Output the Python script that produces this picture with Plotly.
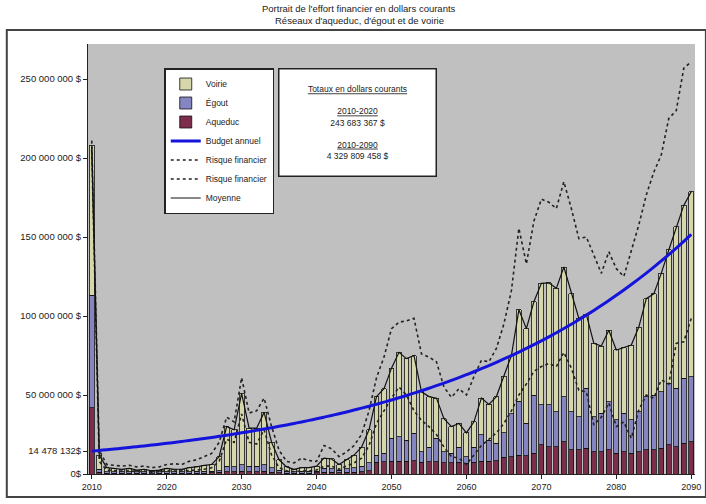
import plotly.graph_objects as go

# ---------------- data (millions of current dollars) ----------------
years = list(range(2010, 2091))

aqueduc = [42, 1.0, 0.5, 0.5, 0.4, 0.5, 0.4, 0.4, 0.3, 0.4,
           0.5, 0.4, 0.4, 0.5, 0.6, 0.6, 0.8, 1.0, 1.5, 1.4,
           1.8, 1.5, 1.5, 1.6, 1.2, 0.9, 0.6, 0.5, 0.6, 0.6,
           0.7, 1.0, 1.0, 0.8, 1.0, 1.2, 1.5, 2.0, 7.5, 7.8,
           8.0, 8.2, 8.0, 8.3, 7.5, 7.6, 7.8, 7.2, 7.0, 7.3,
           6.8, 7.4, 8.2, 8.0, 8.4, 10.5, 11.0, 12.0, 11.5, 13.0,
           18.4, 17.3, 17.3, 20.5, 15.2, 15.2, 16.2, 14.2, 14.2, 15.2,
           13.2, 14.2, 13.2, 14.2, 15.2, 15.2, 16.2, 18.4, 17.3, 19.4,
           20.5]

egout = [71, 2.0, 1.0, 1.0, 1.0, 1.0, 1.0, 1.0, 1.0, 1.0,
         1.0, 1.0, 1.0, 1.0, 1.0, 1.0, 1.0, 1.0, 3.5, 3.1,
         4.2, 3.5, 3.5, 4.4, 2.8, 1.6, 1.2, 1.0, 1.2, 1.2,
         1.2, 2.5, 2.3, 1.7, 2.2, 2.8, 3.5, 5.0, 4.5, 5.2,
         14.6, 15.4, 13.5, 17.4, 6.5, 9.4, 14.8, 6.8, 6.0, 9.7,
         4.2, 9.6, 16.5, 13.5, 11.0, 15.5, 27.0, 34.0, 20.5, 37.0,
         25.3, 26.4, 22.2, 28.4, 24.3, 21.1, 38.0, 22.1, 24.2, 30.6,
         21.0, 24.2, 21.0, 25.3, 33.7, 34.8, 35.9, 39.0, 36.9, 41.1,
         41.1]

voirie = [95, 9.0, 2.5, 2.0, 1.6, 2.0, 1.1, 1.6, 0.7, 1.1,
          2.0, 1.6, 1.6, 2.5, 2.9, 3.9, 4.2, 9.0, 25.0, 23.5,
          45.0, 24.0, 24.0, 33.0, 16.0, 6.5, 2.7, 1.5, 2.2, 2.2,
          3.1, 6.5, 6.2, 3.5, 5.8, 8.0, 12.0, 21.0, 37.0, 41.0,
          44.4, 53.4, 51.5, 49.3, 38.0, 32.0, 25.4, 21.0, 17.0, 15.0,
          15.0, 16.0, 23.3, 22.5, 29.6, 36.0, 37.0, 58.0, 60.0, 59.0,
          77.0, 77.3, 78.0, 82.1, 74.5, 62.2, 46.8, 46.4, 42.6, 45.2,
          44.3, 41.6, 47.4, 53.5, 62.1, 64.0, 74.9, 84.4, 102.3, 109.5,
          117.1]

moyenne = [208, 12, 4, 3.5, 3, 3.5, 2.5, 3, 2, 2.5,
           3.5, 3, 3, 4, 4.5, 5.5, 6, 11, 30, 28,
           51, 29, 29, 39, 20, 9, 4.5, 3, 4, 4,
           5, 10, 9.5, 6, 9, 12, 17, 28, 49, 54,
           67, 77, 73, 75, 52, 49, 48, 35, 30, 32,
           26, 33, 48, 44, 49, 62, 75, 104, 92, 109,
           120.7, 121, 117.5, 131, 114, 98.5, 101, 82.7, 81, 91,
           78.5, 80, 81.6, 93, 111, 114, 127, 141.8, 156.5, 170,
           178.7]

risque_haut = [211, 15, 6, 5.5, 5, 5.5, 4.5, 5, 4, 4.5,
               6, 6.5, 6, 8, 9, 11, 13, 20, 36, 33,
               61, 38.6, 40, 48, 30, 15, 8, 7, 10, 8.5,
               8, 18, 16, 11, 14, 18, 25, 40, 61, 74,
               92, 96, 97, 98.5, 76, 74, 71, 55, 48.5, 54,
               50, 61.6, 72, 71, 79.5, 95, 116, 155.5, 133, 160,
               174, 172, 168, 185, 168, 149, 150, 138.6, 127, 140.7,
               130, 125, 140.7, 157.6, 176.6, 191, 202, 225, 230, 256.8,
               261]

risque_bas = [205, 8, 2.5, 2, 1.8, 2, 1.5, 1.8, 1.2, 1.5,
              2, 1.8, 1.8, 2.2, 2.5, 3, 4, 8, 22, 20,
              38, 20, 19, 28, 12, 4, 2, 1.5, 2, 2,
              2.5, 5, 5, 3, 5, 7, 10, 18, 32, 40,
              48, 55, 50, 40, 34, 30, 25, 17, 11, 10,
              6, 12, 18, 22, 26, 32, 40, 50, 57, 65,
              68, 70, 68, 77, 67, 53, 52, 31, 36, 45,
              30, 33, 22.6, 40.5, 50, 48, 59.5, 57, 82.7, 83.7,
              98.5]

budget = [14.48, 14.91, 15.35, 15.81, 16.28, 16.77, 17.27, 17.78, 18.31, 18.86,
          19.42, 20.00, 20.60, 21.21, 21.84, 22.49, 23.16, 23.85, 24.56, 25.29,
          26.05, 26.82, 27.62, 28.45, 29.29, 30.17, 31.07, 31.99, 32.94, 33.93,
          34.94, 35.98, 37.05, 38.16, 39.29, 40.46, 41.67, 42.91, 44.19, 45.50,
          46.86, 48.26, 49.69, 51.17, 52.70, 54.27, 55.89, 57.55, 59.27, 61.03,
          62.85, 64.72, 66.65, 68.64, 70.68, 72.79, 74.96, 77.19, 79.49, 81.86,
          84.30, 86.81, 89.40, 92.06, 94.80, 97.63, 100.54, 103.53, 106.62, 109.80,
          113.07, 116.44, 119.91, 123.48, 127.16, 130.95, 134.85, 138.87, 143.01, 147.27,
          151.66]

y_tickvals = [0, 14.478132, 50, 100, 150, 200, 250]
y_ticktext = ["0$", "14 478 132$", "50 000 000 $", "100 000 000 $",
              "150 000 000 $", "200 000 000 $", "250 000 000 $"]
x_tickvals = [2010, 2020, 2030, 2040, 2050, 2060, 2070, 2080, 2090]

title_lines = ["Portrait de l'effort financier en dollars courants",
               "Réseaux d'aqueduc, d'égout et de voirie"]
totaux_text = ("<u>Totaux en dollars courants</u><br> <br>"
               "<u>2010-2020</u><br>243 683 367 $<br> <br>"
               "<u>2010-2090</u><br>4 329 809 458 $")

# ---------------- layout constants ----------------
W, H = 706, 504
ML, MR, MT, MB = 88, 5, 44, 30
PW, PH = W - ML - MR, H - MT - MB
FONT = "Liberation Sans, Arial, sans-serif"


def px_x(p):
    return (p - ML) / PW


def px_y(p):
    return (H - MB - p) / PH


fig = go.Figure()

bar_line = dict(color="#111111", width=0.8)
fig.add_trace(go.Bar(x=years, y=aqueduc, name="Aqueduc", legendrank=3,
                     marker=dict(color="#7b2d4b", line=bar_line)))
fig.add_trace(go.Bar(x=years, y=egout, name="Égout", legendrank=2,
                     marker=dict(color="#8585c2", line=bar_line)))
fig.add_trace(go.Bar(x=years, y=voirie, name="Voirie", legendrank=1,
                     marker=dict(color="#d6d6ab", line=bar_line)))

fig.add_trace(go.Scatter(x=years, y=risque_haut, name="Risque financier", legendrank=5,
                         mode="lines", line=dict(color="#222222", width=1.6, dash="dot")))
fig.add_trace(go.Scatter(x=years, y=risque_bas, name="Risque financier", legendrank=6,
                         mode="lines", line=dict(color="#222222", width=1.6, dash="dot")))
fig.add_trace(go.Scatter(x=years, y=moyenne, name="Moyenne", legendrank=7,
                         mode="lines", line=dict(color="#111111", width=1.2)))
fig.add_trace(go.Scatter(x=years, y=budget, name="Budget annuel", legendrank=4,
                         mode="lines", line=dict(color="#1414dc", width=3, shape="spline")))

annotations = [dict(text=totaux_text, xref="paper", yref="paper",
                    x=px_x(360), y=px_y(123), xanchor="center", yanchor="middle",
                    width=154, height=104, showarrow=False, align="center",
                    bgcolor="white", bordercolor="#222222", borderwidth=1.5,
                    borderpad=1,
                    font=dict(family=FONT, size=8.5, color="#222222"))]
for i, line in enumerate(title_lines):
    annotations.append(dict(text=line, xref="paper", yref="paper",
                            x=px_x(362), y=px_y(8 + 13 * i),
                            xanchor="center", yanchor="middle", showarrow=False,
                            font=dict(family=FONT, size=9.5, color="#222222")))

fig.update_layout(
    width=W, height=H,
    margin=dict(l=ML, r=MR, t=MT, b=MB, pad=0),
    paper_bgcolor="white",
    plot_bgcolor="#c0c0c0",
    barmode="stack",
    bargap=0.34,
    font=dict(family=FONT, size=9, color="#222222"),
    xaxis=dict(range=[2009.5, 2090.5], tickvals=x_tickvals,
               ticks="outside", ticklen=4, tickcolor="#222222",
               showline=True, linecolor="#222222", linewidth=1,
               showgrid=False, zeroline=False, ticklabeloverflow="allow",
               tickfont=dict(family=FONT, size=9, color="#222222")),
    yaxis=dict(range=[0, PH / 1.58], tickvals=y_tickvals, ticktext=y_ticktext,
               ticks="outside", ticklen=4, tickcolor="#222222",
               showline=True, linecolor="#222222", linewidth=1,
               showgrid=False, zeroline=False,
               tickfont=dict(family=FONT, size=9.5, color="#222222")),
    legend=dict(x=px_x(165), y=px_y(68), xanchor="left", yanchor="top",
                bgcolor="white", bordercolor="#222222", borderwidth=1.5,
                font=dict(family=FONT, size=8.5, color="#222222"),
                traceorder="normal", itemwidth=30, tracegroupgap=0),
    showlegend=True,
    annotations=annotations,
    shapes=[dict(type="rect", xref="paper", yref="paper",
                 x0=px_x(6), x1=px_x(712), y0=px_y(497), y1=px_y(30),
                 line=dict(color="#444444", width=2), layer="above")],
)

fig.write_html("out.html")
